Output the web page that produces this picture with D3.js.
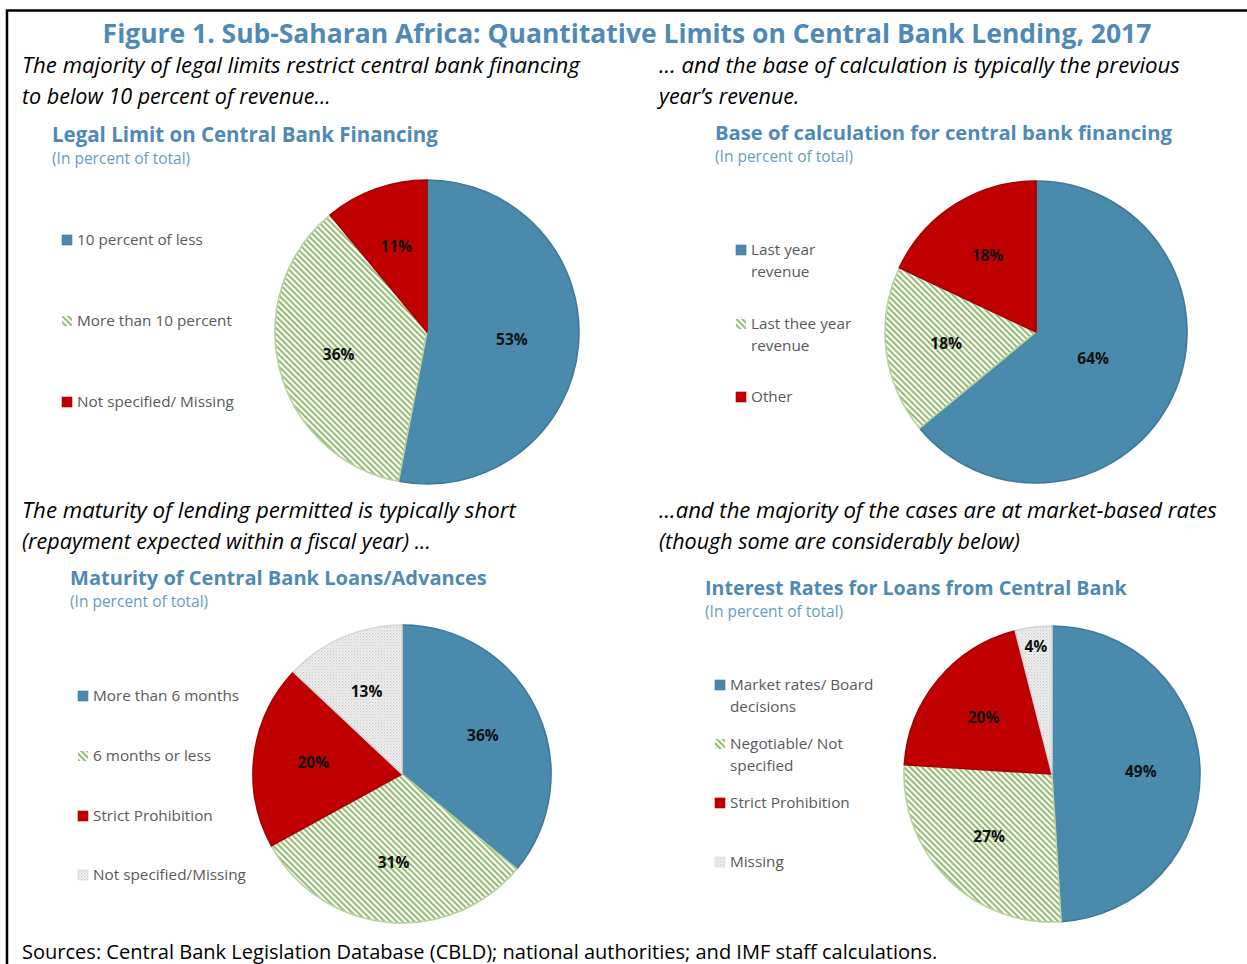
<!DOCTYPE html>
<html>
<head>
<meta charset="utf-8">
<script src="https://cdn.jsdelivr.net/npm/d3@7/dist/d3.min.js"></script>
<style>
  html, body { margin: 0; padding: 0; background: #ffffff; }
  svg { display: block; }
</style>
</head>
<body>
<svg id="fig" width="1247" height="964"></svg>
<script>
// ---- Data -----------------------------------------------------------
const figTitle = "Figure 1. Sub-Saharan Africa: Quantitative Limits on Central Bank Lending, 2017";
const sourceNote = "Sources: Central Bank Legislation Database (CBLD); national authorities; and IMF staff calculations.";
const unitNote = "(In percent of total)";

const limitTitle = "Legal Limit on Central Bank Financing";
const limitCategories = ["10 percent of less", "More than 10 percent", "Not specified/ Missing"];
const limitValues = [53, 36, 11];
const limitLead = ["The majority of legal limits restrict central bank financing", "to below 10 percent of revenue..."];

const baseTitle = "Base of calculation for central bank financing";
const baseCategories = ["Last year revenue", "Last thee year revenue", "Other"];
const baseValues = [64, 18, 18];
const baseLead = ["... and the base of calculation is typically the previous", "year\u2019s revenue."];

const maturityTitle = "Maturity of Central Bank Loans/Advances";
const maturityCategories = ["More than 6 months", "6 months or less", "Strict Prohibition", "Not specified/Missing"];
const maturityValues = [36, 31, 20, 13];
const maturityLead = ["The maturity of lending permitted is typically short", "(repayment expected within a fiscal year) ..."];

const rateTitle = "Interest Rates for Loans from Central Bank";
const rateCategories = ["Market rates/ Board decisions", "Negotiable/ Not specified", "Strict Prohibition", "Missing"];
const rateValues = [49, 27, 20, 4];
const rateLead = ["...and the majority of the cases are at market-based rates", "(though some are considerably below)"];

// ---- Drawing --------------------------------------------------------
const svg = d3.select("#fig");
const FONT = "'Open Sans', 'Noto Sans', 'DejaVu Sans', sans-serif";
const BLUE_TXT = "#4f89b6";

// hatch and dot fills
const defs = svg.append("defs");
const hatch = defs.append("pattern").attr("id", "hatchGreen")
  .attr("patternUnits", "userSpaceOnUse").attr("width", 4.2).attr("height", 4.2)
  .attr("patternTransform", "rotate(-45)");
hatch.append("rect").attr("width", 4.2).attr("height", 4.2).attr("fill", "#ffffff");
hatch.append("rect").attr("width", 2.1).attr("height", 4.2).attr("fill", "#96bb76");

const dots = defs.append("pattern").attr("id", "dotsGray")
  .attr("patternUnits", "userSpaceOnUse").attr("width", 3).attr("height", 3);
dots.append("rect").attr("width", 3).attr("height", 3).attr("fill", "#f0f0f0");
dots.append("rect").attr("width", 1.2).attr("height", 1.2).attr("fill", "#c9c9c9");
dots.append("rect").attr("x", 1.5).attr("y", 1.5).attr("width", 1.2).attr("height", 1.2).attr("fill", "#d8d8d8");

const sliceFill = ["#4a8aad", "url(#hatchGreen)", "#c00000", "url(#dotsGray)"];
const sliceStroke = ["#3f7898", "#b7d2a0", "#a80000", "#d6d6d6"];

// frame
svg.append("rect").attr("x", 7).attr("y", 10.5).attr("width", 1300).attr("height", 1100)
  .attr("fill", "none").attr("stroke", "#000").attr("stroke-width", 2.5);

// shrink/grow a text element to a given width
function fitWidth(sel, target) {
  const node = sel.node();
  const fs = parseFloat(sel.attr("font-size"));
  const w = node.getComputedTextLength();
  if (w > 0) sel.attr("font-size", (fs * target / w).toFixed(2));
  return sel;
}

fitWidth(svg.append("text").attr("x", 627).attr("y", 43).attr("text-anchor", "middle")
  .attr("font-family", FONT).attr("font-weight", 700).attr("font-size", 28)
  .attr("fill", BLUE_TXT).text(figTitle), 1049);

function lead(lines, x, y, widths) {
  lines.forEach((t, i) => {
    const s = svg.append("text").attr("x", x).attr("y", y + i * 30.5)
      .attr("font-family", FONT).attr("font-style", "italic").attr("font-size", 21.5)
      .attr("fill", "#000").text(t);
    if (widths[i]) fitWidth(s, widths[i]);
  });
}
lead(limitLead, 22, 73, [558, 0]);
lead(baseLead, 659, 73, [521, 0]);
lead(maturityLead, 22, 518, [494, 0]);
lead(rateLead, 659, 518, [558, 0]);

// radial position of a value label: small slices push outward so the label fits,
// very large slices pull it toward the centre
function labelRadius(d, r, labelW) {
  const theta = d.endAngle - d.startAngle;
  const share = theta / (2 * Math.PI);
  let rho = 0.6 * r;
  if (share > 0.5) rho = (0.6 - (share - 0.5) * 1.3) * r;
  const need = (labelW + 12) / theta;
  if (need > rho) rho = Math.min(need, 0.87 * r);
  return rho;
}

function panel(cfg) {
  fitWidth(svg.append("text").attr("x", cfg.tx).attr("y", cfg.ty)
    .attr("font-family", FONT).attr("font-weight", 700).attr("font-size", 21)
    .attr("fill", BLUE_TXT).text(cfg.title), cfg.tw);
  svg.append("text").attr("x", cfg.tx).attr("y", cfg.ty + 22)
    .attr("font-family", FONT).attr("font-size", 15.5)
    .attr("fill", "#6a9cc4").text(unitNote);

  const pie = d3.pie().sort(null).value(d => d);
  const arcs = pie(cfg.values);
  const arc = d3.arc().innerRadius(0).outerRadius(cfg.r);
  const g = svg.append("g").attr("transform", `translate(${cfg.cx},${cfg.cy})`);

  g.selectAll("path.slice").data(arcs).join("path").attr("class", "slice")
    .attr("d", arc)
    .attr("fill", (d, i) => sliceFill[i])
    .attr("stroke", (d, i) => sliceStroke[i])
    .attr("stroke-width", 1.6)
    .attr("stroke-linejoin", "round");

  g.selectAll("text.val").data(arcs).join("text").attr("class", "val")
    .attr("text-anchor", "middle").attr("dy", "0.35em")
    .attr("font-family", FONT).attr("font-weight", 700).attr("font-size", 15.5)
    .attr("fill", "#111").text(d => d.data + "%")
    .attr("transform", function (d) {
      const w = this.getComputedTextLength();
      const rho = labelRadius(d, cfg.r, w);
      const a = (d.startAngle + d.endAngle) / 2;
      return `translate(${rho * Math.sin(a)},${-rho * Math.cos(a)})`;
    });

  // legend
  const lg = svg.append("g");
  cfg.categories.forEach((c, i) => {
    const y = cfg.ly[i];
    const lines = cfg.wrap ? cfg.wrap[i] : [c];
    lg.append("rect").attr("x", cfg.lx).attr("y", y - 5).attr("width", 10).attr("height", 10)
      .attr("fill", sliceFill[i]).attr("stroke", i === 1 ? "none" : sliceStroke[i]).attr("stroke-width", 0.6);
    lines.forEach((t, j) => {
      lg.append("text").attr("x", cfg.lx + 15).attr("y", y + j * 21.5).attr("dy", "0.35em")
        .attr("font-family", FONT).attr("font-size", 15.3).attr("fill", "#595959").text(t);
    });
  });
}

panel({ title: limitTitle, tx: 52, ty: 142, tw: 386, values: limitValues, categories: limitCategories,
  cx: 427, cy: 332, r: 152, lx: 62, ly: [240, 321, 402] });
panel({ title: baseTitle, tx: 715, ty: 140, tw: 457, values: baseValues, categories: baseCategories,
  cx: 1036, cy: 332, r: 151, lx: 736, ly: [250, 324, 397],
  wrap: [["Last year", "revenue"], ["Last thee year", "revenue"], ["Other"]] });
panel({ title: maturityTitle, tx: 70, ty: 585, tw: 417, values: maturityValues, categories: maturityCategories,
  cx: 402, cy: 774, r: 149, lx: 78, ly: [696, 756, 816, 875] });
panel({ title: rateTitle, tx: 705, ty: 595, tw: 422, values: rateValues, categories: rateCategories,
  cx: 1052, cy: 774, r: 148, lx: 715, ly: [685, 744, 803, 862],
  wrap: [["Market rates/ Board", "decisions"], ["Negotiable/ Not", "specified"], ["Strict Prohibition"], ["Missing"]] });

fitWidth(svg.append("text").attr("x", 22).attr("y", 959)
  .attr("font-family", "'Liberation Sans Narrow', 'Open Sans', sans-serif").attr("font-size", 20)
  .attr("fill", "#000").text(sourceNote), 916);
</script>
</body>
</html>
